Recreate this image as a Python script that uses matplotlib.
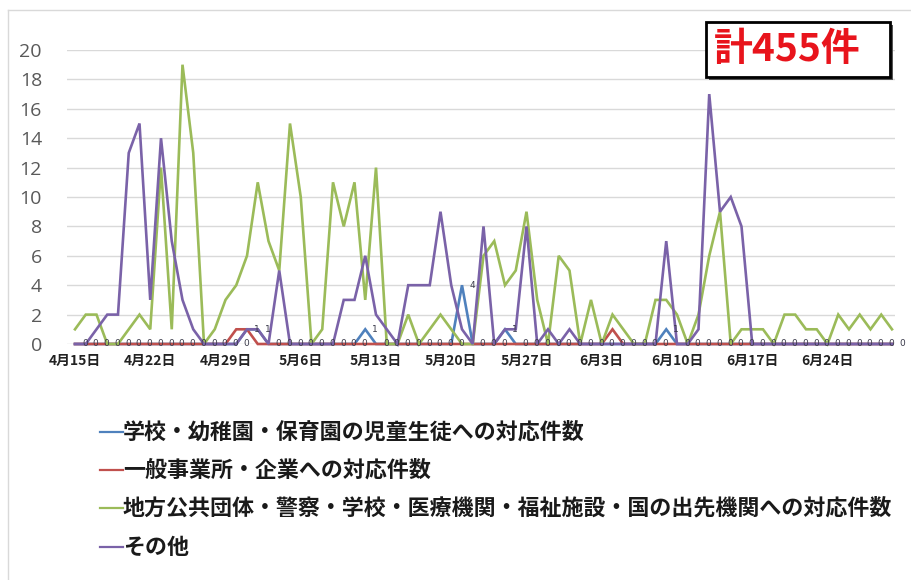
import matplotlib
matplotlib.use("Agg")
import matplotlib.pyplot as plt
from matplotlib.lines import Line2D
from matplotlib.patches import Rectangle
import numpy as np
import pandas as pd

plt.rcParams["font.family"] = ["Noto Sans CJK JP", "DejaVu Sans"]

# daily counts, 4/15 .. 6/30
dates = pd.date_range("2020-04-15", "2020-06-30", freq="D")

school = [0, 0, 0, 0, 0, 0, 0, 0, 0, 0,
          0, 0, 0, 0, 0, 0, 1, 1, 0, 0,
          0, 0, 0, 0, 0, 0, 0, 1, 0, 0,
          0, 0, 0, 0, 0, 0, 4, 0, 0, 0,
          1, 0, 0, 0, 0, 0, 0, 0, 0, 0,
          0, 0, 0, 0, 0, 1, 0, 0, 0, 0,
          0, 0, 0, 0, 0, 0, 0, 0, 0, 0,
          0, 0, 0, 0, 0, 0, 0]
business = [0, 0, 0, 0, 0, 0, 0, 0, 0, 0,
            0, 0, 0, 0, 0, 1, 1, 0, 0, 0,
            0, 0, 0, 0, 0, 0, 0, 0, 0, 0,
            0, 0, 0, 0, 0, 0, 0, 0, 0, 0,
            0, 0, 0, 0, 0, 0, 0, 0, 0, 0,
            1, 0, 0, 0, 0, 0, 0, 0, 0, 0,
            0, 0, 0, 0, 0, 0, 0, 0, 0, 0,
            0, 0, 0, 0, 0, 0, 0]
public = [1, 2, 2, 0, 0, 1, 2, 1, 12, 1,
          19, 13, 0, 1, 3, 4, 6, 11, 7, 5,
          15, 10, 0, 1, 11, 8, 11, 3, 12, 0,
          0, 2, 0, 1, 2, 1, 0, 0, 6, 7,
          4, 5, 9, 3, 0, 6, 5, 0, 3, 0,
          2, 1, 0, 0, 3, 3, 2, 0, 2, 6,
          9, 0, 1, 1, 1, 0, 2, 2, 1, 1,
          0, 2, 1, 2, 1, 2, 1]
other = [0, 0, 1, 2, 2, 13, 15, 3, 14, 7,
         3, 1, 0, 0, 0, 0, 1, 1, 0, 5,
         0, 0, 0, 0, 0, 3, 3, 6, 2, 1,
         0, 4, 4, 4, 9, 4, 1, 0, 8, 0,
         1, 1, 8, 0, 1, 0, 1, 0, 0, 0,
         0, 0, 0, 0, 0, 7, 0, 0, 1, 17,
         9, 10, 8, 0, 0, 0, 0, 0, 0, 0,
         0, 0, 0, 0, 0, 0, 0]

series_names = [
    "学校・幼稚園・保育園の児童生徒への対応件数",
    "一般事業所・企業への対応件数",
    "地方公共団体・警察・学校・医療機関・福祉施設・国の出先機関への対応件数",
    "その他",
]
series_values = [school, business, public, other]
series_colors = ["#4F81BD", "#C0504D", "#9BBB59", "#7A62A8"]

tick_days = list(range(0, 71, 7))
tick_labels = [f"{dates[i].month}月{dates[i].day}日" for i in tick_days]

W, H = 911, 580
fig = plt.figure(figsize=(W / 100, H / 100), dpi=100)
fig.patch.set_facecolor("white")

def fx(px):
    return px / W

def fy(py):
    return 1 - py / H

ax = fig.add_axes([fx(67), fy(344), fx(895) - fx(67), fy(50) - fy(344)])
days = np.arange(len(dates))

for vals, col in zip(series_values, series_colors):
    ax.plot(days, vals, color=col, lw=1.9, clip_on=False, solid_joinstyle="miter")

# value labels on the school series
for d, v in zip(days, school):
    ax.annotate(str(v), (d, v), xytext=(10, 0), textcoords="offset pixels",
                ha="center", va="center", fontsize=6.5, color="#3A3A4A",
                family=["DejaVu Sans"], annotation_clip=False)

ax.set_xlim(-0.744, 76.28)
ax.set_ylim(0, 20)
ax.set_yticks(range(0, 21, 2))
ax.set_xticks(tick_days)
ax.set_xticklabels(tick_labels, fontsize=10, fontweight="bold", color="#222222")
for lab in ax.get_yticklabels():
    lab.set_family(["Open Sans", "DejaVu Sans"])
    lab.set_fontsize(14)
    lab.set_color("#595959")
ax.tick_params(axis="y", length=0, pad=18)
ax.tick_params(axis="x", length=0, pad=7)
ax.grid(axis="y", color="#D9D9D9", lw=1)
ax.set_axisbelow(True)
for s in ax.spines.values():
    s.set_visible(False)

# legend drawn as dash + label rows
rows_y = [432, 470, 508, 547]
for name, col, ry in zip(series_names, series_colors, rows_y):
    fig.add_artist(Line2D([fx(100), fx(123)], [fy(ry), fy(ry)], color=col, lw=1.6,
                          transform=fig.transFigure))
    fig.text(fx(123), fy(ry), name, fontsize=15.8, fontweight="bold", color="#1A1A1A",
             ha="left", va="center")

# total box with a slight drop shadow
total = sum(sum(v) for v in series_values)
fig.add_artist(Rectangle((fx(709), fy(80)), fx(893) - fx(709), fy(25) - fy(80),
                         transform=fig.transFigure, facecolor="#555555",
                         edgecolor="none"))
fig.add_artist(Rectangle((fx(706), fy(77)), fx(890) - fx(706), fy(22) - fy(77),
                         transform=fig.transFigure, facecolor="white",
                         edgecolor="black", lw=2))
fig.text(fx(787), fy(49), f"計{total}件", fontsize=28, fontweight="bold",
         color="#E8141C", ha="center", va="center")

# outer frame
fig.add_artist(Line2D([fx(8), 1], [fy(10), fy(10)], color="#D9D9D9", lw=1,
                      transform=fig.transFigure))
fig.add_artist(Line2D([fx(8), fx(8)], [fy(10), 0], color="#D9D9D9", lw=1,
                      transform=fig.transFigure))

fig.savefig("out.png", dpi=100)
